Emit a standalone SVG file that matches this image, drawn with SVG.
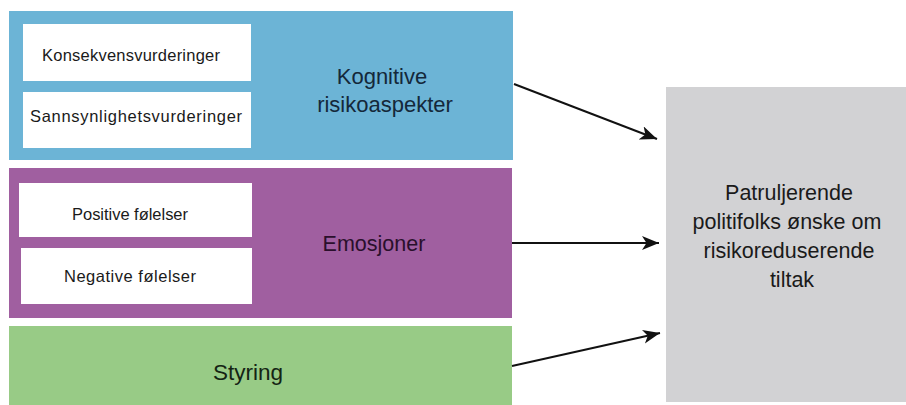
<svg xmlns="http://www.w3.org/2000/svg" width="906" height="405" viewBox="0 0 906 405">
  <style>
    .sub { fill: #ffffff; }
    .subtxt { font-family: "Liberation Sans", Arial, sans-serif; font-size: 16.5px; fill: #1a1a1a; text-anchor: middle; }
    .big { font-family: "Liberation Sans", Arial, sans-serif; font-size: 21.5px; text-anchor: middle; }
    .conn { stroke: #111111; stroke-width: 2; fill: none; }
  </style>
  <defs>
    <marker id="arrow" markerUnits="userSpaceOnUse" markerWidth="20" markerHeight="16" refX="17" refY="7" orient="auto">
      <path d="M0,0 L17,7 L0,14 L4.5,7 z" fill="#111111"/>
    </marker>
  </defs>
  <rect width="906" height="405" fill="#ffffff"/>

  <g id="kognitive">
    <rect x="9" y="11" width="504" height="149" fill="#6cb4d6"/>
    <text class="big" x="382" y="84" fill="#14283a" style="font-size:22px">Kognitive</text>
    <text class="big" x="385" y="112" fill="#14283a" style="font-size:22px">risikoaspekter</text>
  </g>
  <g id="konsekvens">
    <rect class="sub" x="23" y="24" width="228" height="57"/>
    <text class="subtxt" x="131" y="61" textLength="178" lengthAdjust="spacing">Konsekvensvurderinger</text>
  </g>
  <g id="sannsynlighet">
    <rect class="sub" x="23" y="92" width="228" height="56"/>
    <text class="subtxt" x="136" y="122" textLength="212" lengthAdjust="spacing">Sannsynlighetsvurderinger</text>
  </g>

  <g id="emosjoner">
    <rect x="9" y="168" width="503" height="150" fill="#a05fa0"/>
    <text class="big" x="374" y="251" fill="#2a0f2c">Emosjoner</text>
  </g>
  <g id="positive">
    <rect class="sub" x="19" y="183" width="233" height="54"/>
    <text class="subtxt" x="130" y="220" textLength="116" lengthAdjust="spacing">Positive følelser</text>
  </g>
  <g id="negative">
    <rect class="sub" x="21" y="248" width="231" height="56"/>
    <text class="subtxt" x="130" y="282" textLength="132" lengthAdjust="spacing">Negative følelser</text>
  </g>

  <g id="styring">
    <rect x="9" y="326" width="503" height="79" fill="#98cb86"/>
    <text class="big" x="248" y="380" fill="#142414" style="font-size:22.5px">Styring</text>
  </g>

  <g id="onske">
    <rect x="666" y="87" width="240" height="315" fill="#d2d2d4"/>
    <text class="big" fill="#1a1a1a">
      <tspan x="792" y="200">Patruljerende</tspan>
      <tspan x="790" y="229">politifolks ønske om</tspan>
      <tspan x="792" y="258">risikoreduserende</tspan>
      <tspan x="792" y="287">tiltak</tspan>
    </text>
  </g>

  <g id="connectors">
    <line class="conn" x1="514" y1="84" x2="657" y2="139" marker-end="url(#arrow)"/>
    <line class="conn" x1="512" y1="243" x2="659" y2="243" marker-end="url(#arrow)"/>
    <line class="conn" x1="512" y1="366" x2="660" y2="333" marker-end="url(#arrow)"/>
  </g>
</svg>
